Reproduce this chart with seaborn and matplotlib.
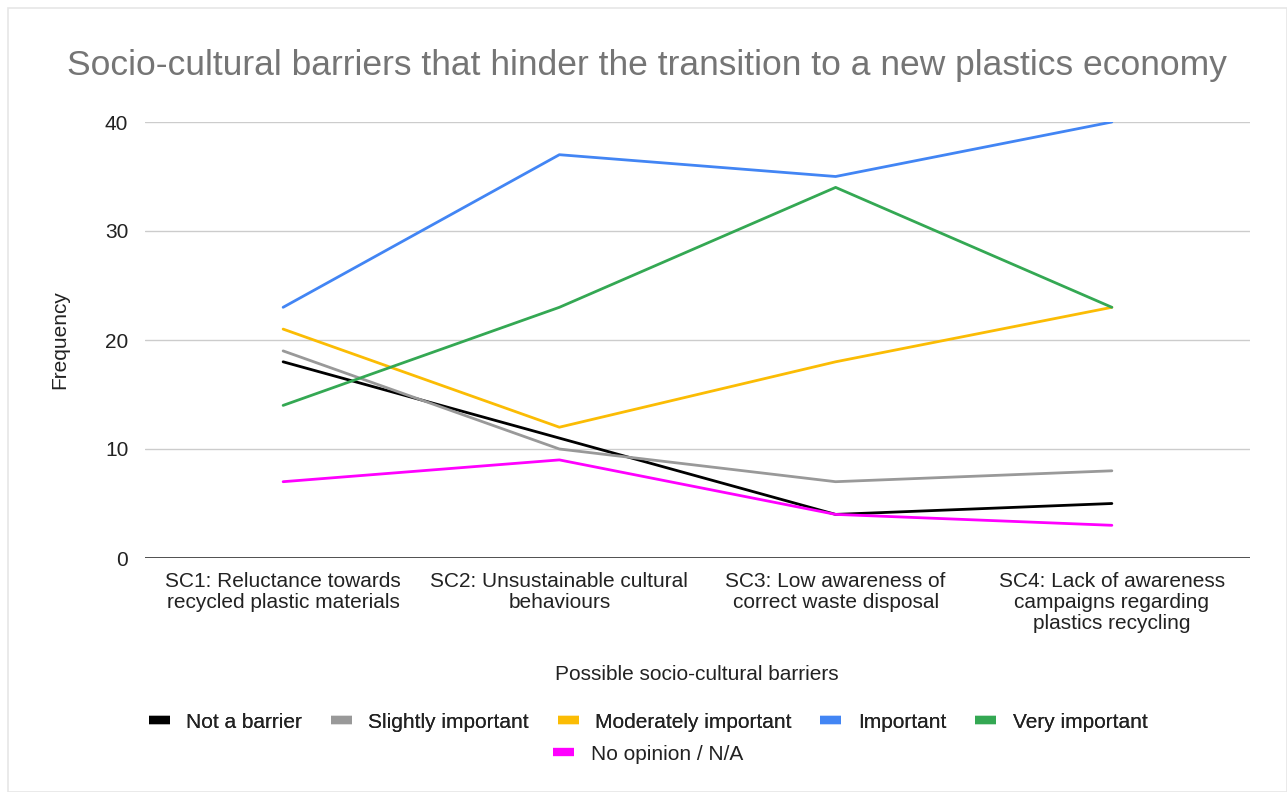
import matplotlib
matplotlib.use("Agg")
import matplotlib.pyplot as plt
from matplotlib.lines import Line2D
import pandas as pd
import seaborn as sns

categories = [
    "SC1: Reluctance towards\nrecycled plastic materials",
    "SC2: Unsustainable cultural\nbehaviours",
    "SC3: Low awareness of\ncorrect waste disposal",
    "SC4: Lack of awareness\ncampaigns regarding\nplastics recycling",
]
series_names = [
    "Not a barrier",
    "Slightly important",
    "Moderately important",
    "Important",
    "Very important",
    "No opinion / N/A",
]
not_a_barrier = [18, 11, 4, 5]
slightly_important = [19, 10, 7, 8]
moderately_important = [21, 12, 18, 23]
important = [23, 37, 35, 40]
very_important = [14, 23, 34, 23]
no_opinion = [7, 9, 4, 3]
y_ticks = [0, 10, 20, 30, 40]

colors = ["#000000", "#999999", "#fbbc04", "#4285f4", "#34a853", "#ff00ff"]

values = [not_a_barrier, slightly_important, moderately_important,
          important, very_important, no_opinion]
rows = []
for name, vals in zip(series_names, values):
    for i, v in enumerate(vals):
        rows.append({"pos": i, "Frequency": v, "series": name})
df = pd.DataFrame(rows)

sns.set_style("white")
plt.rcParams["font.family"] = ["Liberation Sans", "DejaVu Sans"]

TXT = "#222222"
FS = 15

fig = plt.figure(figsize=(12.87, 7.92), dpi=100)
ax = fig.add_axes([145 / 1287, 1 - 558 / 792, (1250 - 145) / 1287, (558 - 122) / 792])

sns.lineplot(data=df, x="pos", y="Frequency", hue="series", hue_order=series_names,
             palette=colors, linewidth=2.0, ax=ax, legend=False, sort=False)

ax.set_xlim(-0.5, 3.5)
ax.set_ylim(0, 40)
ax.set_yticks(y_ticks)
ax.set_yticklabels([str(t) for t in y_ticks], fontsize=FS, color=TXT)
ax.set_xticks(range(len(categories)))
ax.set_xticklabels(categories, fontsize=FS, color=TXT, linespacing=1.15)
ax.tick_params(axis="x", length=0, pad=10)
ax.tick_params(axis="y", length=0, pad=12)
for s in ax.spines.values():
    s.set_visible(False)
ax.grid(axis="y", color="#cccccc", linewidth=1)
ax.grid(axis="x", visible=False)
ax.axhline(0, color="#333333", linewidth=1.2, zorder=1)
ax.set_axisbelow(True)

ax.set_ylabel("Frequency", fontsize=FS, color=TXT, labelpad=26)
ax.set_xlabel("")
fig.text(697 / 1287, 1 - 675 / 792, "Possible socio-cultural barriers",
         ha="center", va="center", fontsize=FS, color=TXT)

fig.text(647 / 1287, 1 - 66 / 792,
         "Socio-cultural barriers that hinder the transition to a new plastics economy",
         ha="center", va="center", fontsize=25.5, color="#757575")

handles = [Line2D([0], [0], color=c, linewidth=6, solid_capstyle="butt") for c in colors]
leg1 = fig.legend(handles[:5], series_names[:5], loc="center",
                  bbox_to_anchor=(648 / 1287, 1 - 722 / 792), ncol=5, frameon=False,
                  fontsize=FS, handlelength=1.0, handletextpad=0.8, columnspacing=1.38)
for t in leg1.get_texts():
    t.set_color(TXT)
leg2 = fig.legend(handles[5:], series_names[5:], loc="center",
                  bbox_to_anchor=(648 / 1287, 1 - 754 / 792), ncol=1, frameon=False,
                  fontsize=FS, handlelength=1.0, handletextpad=0.8)
for t in leg2.get_texts():
    t.set_color(TXT)
fig.add_artist(leg1)

# light outer border
fig.add_artist(plt.Rectangle((8 / 1287, 0), 1 - 8 / 1287, 1 - 8 / 792,
                             transform=fig.transFigure, fill=False,
                             edgecolor="#e6e6e6", linewidth=1.2))

fig.savefig("out.png", dpi=100, facecolor="white")
